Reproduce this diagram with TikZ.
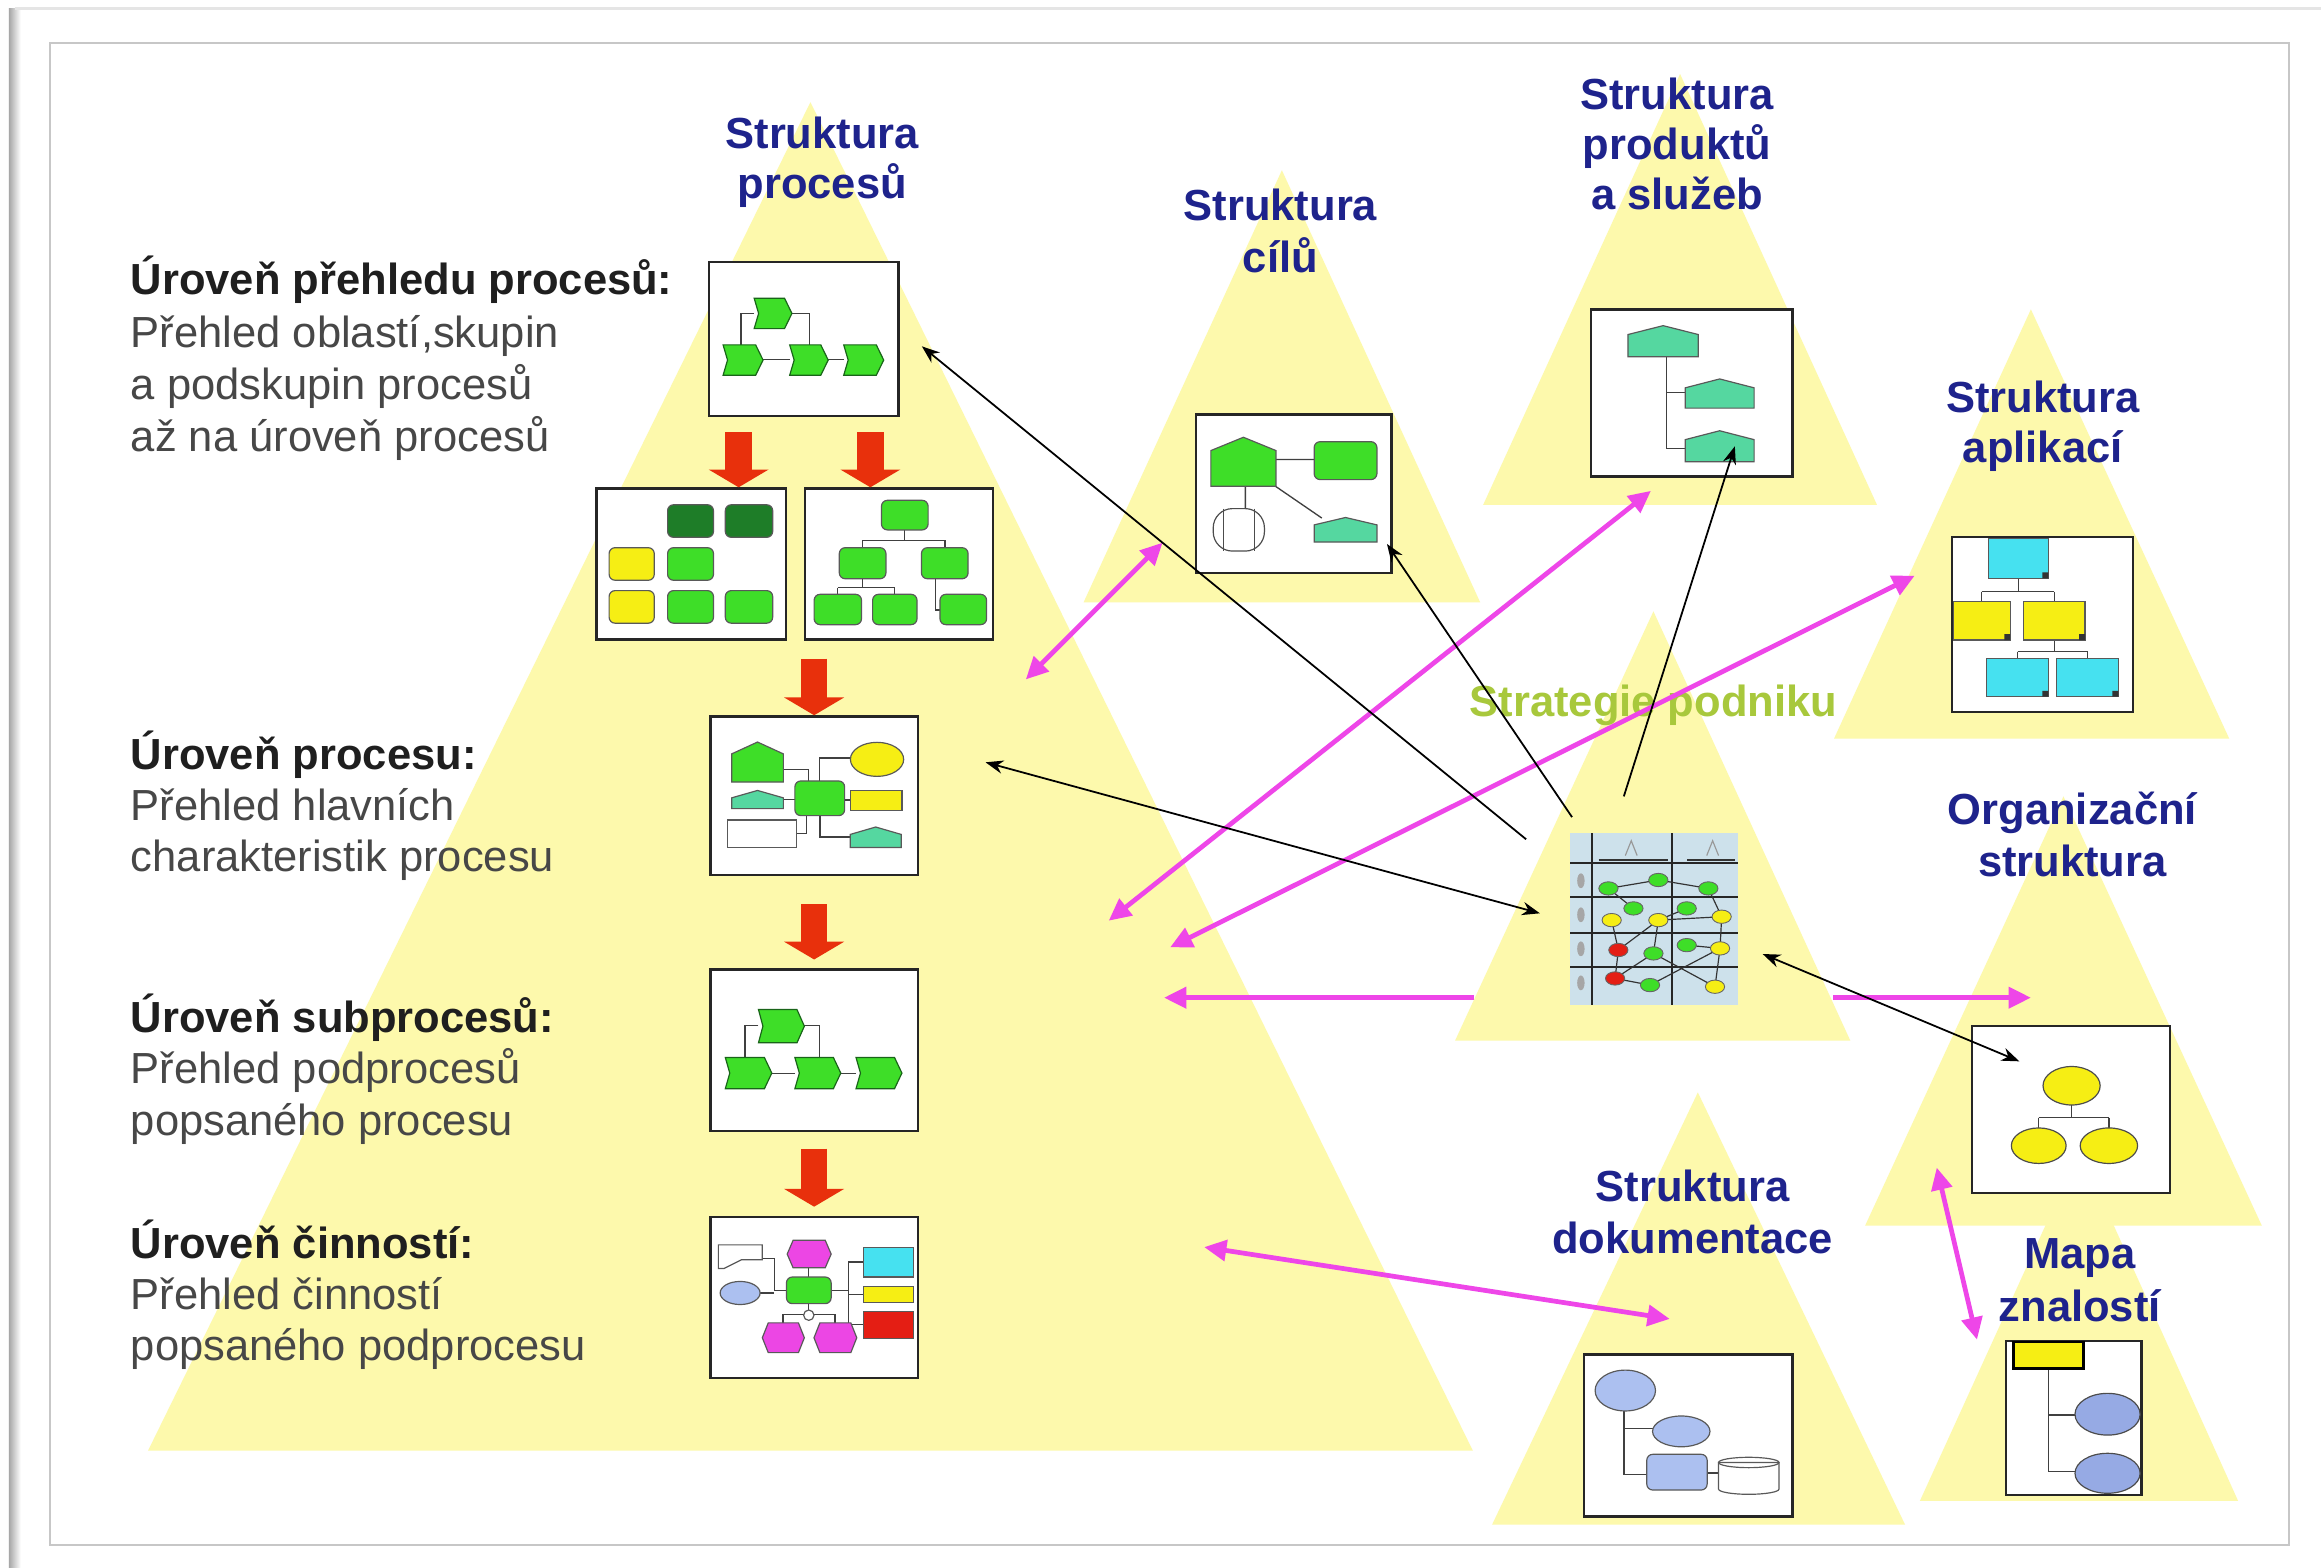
\documentclass[tikz,border=0pt]{standalone}
\usepackage{fontspec}
\setmainfont{Liberation Sans}
\usetikzlibrary{arrows.meta,fit}
\definecolor{trifill}{RGB}{253,249,172}
\definecolor{navy}{RGB}{30,35,140}
\definecolor{stratc}{RGB}{168,200,60}
\definecolor{magc}{RGB}{238,70,232}
\definecolor{redc}{RGB}{232,48,12}
\definecolor{gfill}{RGB}{62,222,40}
\definecolor{gdraw}{RGB}{25,100,25}
\definecolor{dgfill}{RGB}{30,125,40}
\definecolor{yfill}{RGB}{246,238,20}
\definecolor{tfill}{RGB}{85,215,160}
\definecolor{cfill}{RGB}{70,225,240}
\definecolor{mfill}{RGB}{236,70,228}
\definecolor{bfill}{RGB}{172,192,240}
\definecolor{bfilld}{RGB}{150,170,228}
\definecolor{rfill}{RGB}{228,30,20}
\definecolor{lbfill}{RGB}{205,225,235}
\newcommand\lblfont{\fontsize{14.7}{17}\selectfont}
\newcommand\chevshape[4]{\filldraw[fill=gfill,draw=gdraw,line width=0.4pt] (#1,#2) -- ({#3-5},#2) -- (#3,{(#2+#4)/2}) -- ({#3-5},#4) -- (#1,#4) -- ({#1+3},{(#2+#4)/2}) -- cycle;}
\newcommand\houseshape[6]{\filldraw[fill=#1,draw=black!65,line width=0.4pt] (#2,#5) -- (#2,{#3+#6}) -- ({(#2+#4)/2},#3) -- (#4,{#3+#6}) -- (#4,#5) -- cycle;}
\newcommand\rrshape[5]{\filldraw[fill=#1,draw=black!65,line width=0.4pt,rounded corners=2pt] (#2,#3) rectangle (#4,#5);}
\newcommand\hexshape[5]{\filldraw[fill=#1,draw=black!65,line width=0.4pt] ({#2+4},#3) -- ({#4-4},#3) -- (#4,{(#3+#5)/2}) -- ({#4-4},#5) -- ({#2+4},#5) -- (#2,{(#3+#5)/2}) -- cycle;}
\newcommand\sqshape[5]{\filldraw[fill=#1,draw=black!65,line width=0.4pt] (#2,#3) rectangle (#4,#5);}
\newcommand\snode[3]{\filldraw[fill=#1,draw=black!60,line width=0.3pt] (#2,#3) ellipse [x radius=6.5, y radius=4.5];}
\begin{document}
\begin{tikzpicture}[x=0.5pt,y=-0.5pt,
 box/.style={draw=black!85,line width=0.8pt,fill=white,inner sep=0pt},
 ttl/.style={font=\lblfont\bfseries,text=navy,anchor=base,inner sep=0pt},
 lvl/.style={font=\lblfont\bfseries,text=black!88,anchor=base west,inner sep=0pt},
 dsc/.style={font=\lblfont,text=black!72,anchor=base west,inner sep=0pt},
 conn/.style={draw=black!75,line width=0.45pt},
 magarr/.style={draw=magc,line width=1.6pt,{Triangle[length=7.5pt,width=7pt]}-{Triangle[length=7.5pt,width=7pt]}},
 magone/.style={draw=magc,line width=1.6pt,-{Triangle[length=7.5pt,width=7pt]}},
 blkarr/.style={draw=black,line width=0.6pt,-{Stealth[length=6pt,width=4.5pt]}},
 blkdbl/.style={draw=black,line width=0.6pt,{Stealth[length=6pt,width=4.5pt]}-{Stealth[length=6pt,width=4.5pt]}},
 redarr/.style={draw=redc,line width=9pt,-{Triangle[length=6pt,width=20pt]}}]
\useasboundingbox (0,0) rectangle (1568,1059);
\fill[white] (0,0) rectangle (1568,1059);
\shade[left color=black!35,right color=white] (6,6) rectangle (14,1059);
\draw[black!10,line width=1pt] (10,6) -- (1568,6);
\draw[black!22,line width=0.6pt] (33.8,29.3) rectangle (1546.6,1043.8);
% triangles
\fill[trifill] (547.5,69) -- (995,980) -- (100,980) -- cycle;
\fill[trifill] (866,115) -- (1000,407) -- (732,407) -- cycle;
\fill[trifill] (1135,50) -- (1268,341) -- (1002,341) -- cycle;
\fill[trifill] (1372,209) -- (1506,499) -- (1239,499) -- cycle;
\fill[trifill] (1117,413) -- (1250,703) -- (983,703) -- cycle;
\fill[trifill] (1394,538) -- (1528,828) -- (1260,828) -- cycle;
\fill[trifill] (1147,738) -- (1287,1030) -- (1008,1030) -- cycle;
\fill[trifill] (1405,777) -- (1512,1014) -- (1297,1014) -- cycle;
% boxes
\node[box,fit={(479,177) (607,281)}] (A) {};
\node[box,fit={(403,330) (531,432)}] (B1) {};
\node[box,fit={(544,330) (671,432)}] (B2) {};
\node[box,fit={(480,484) (620,591)}] (C) {};
\node[box,fit={(480,655) (620,764)}] (D) {};
\node[box,fit={(480,822) (620,931)}] (E) {};
\node[box,fit={(808,280) (940,387)}] (G) {};
\node[box,fit={(1075,209) (1211,322)}] (P) {};
\node[box,fit={(1318.5,362.6) (1441,481)}] (AP) {};
\node[box,fit={(1332,693) (1466,806)}] (O) {};
\node[box,fit={(1070,915) (1211,1024.5)}] (DK) {};
\node[box,fit={(1355.2,905.8) (1446.8,1010)}] (MZ) {};
\node[fill=lbfill,inner sep=0pt,fit={(1060.7,563) (1174.4,679)}] (S) {};
% box A
\draw[conn] (509.5,212) -- (500.5,212) -- (500.5,233);
\draw[conn] (535,212) -- (547,212) -- (547,233);
\draw[conn] (515,243) -- (534,243) (559,243) -- (570,243);
\chevshape{509.5}{201.5}{535}{222}
\chevshape{488.5}{233}{515.5}{253.5}
\chevshape{533.5}{233}{559.5}{253.5}
\chevshape{570}{233}{597}{253.5}
% box B1
\rrshape{dgfill}{451}{341}{482}{363}
\rrshape{dgfill}{490}{341}{522}{363}
\rrshape{yfill}{411.5}{370}{442}{392}
\rrshape{gfill}{451}{370}{482}{392}
\rrshape{yfill}{411.5}{399}{442}{421}
\rrshape{gfill}{451}{399}{482}{421}
\rrshape{gfill}{490}{399}{522}{421}
% box B2
\draw[conn] (611,358) -- (611,365) (582.5,365) -- (638.5,365) (582.5,365) -- (582.5,370) (638.5,365) -- (638.5,370);
\draw[conn] (582.5,391) -- (582.5,397) (566,397) -- (604.5,397) (566,397) -- (566,402) (604.5,397) -- (604.5,402);
\draw[conn] (632,391) -- (632,412) -- (635,412);
\rrshape{gfill}{595.5}{338}{627}{358}
\rrshape{gfill}{567}{370}{598.5}{391}
\rrshape{gfill}{622.5}{370}{654}{391}
\rrshape{gfill}{550}{401.5}{582}{422}
\rrshape{gfill}{589.5}{401.5}{619.5}{422}
\rrshape{gfill}{635}{401.5}{666.5}{422}
% box C
\draw[conn] (529,520) -- (546,520) -- (546,528);
\draw[conn] (574.4,512) -- (553.8,512) -- (553.8,528);
\draw[conn] (529,540) -- (537,540) (570.6,540.5) -- (574.4,540.5);
\draw[conn] (545,551) -- (545,563) -- (538,563);
\draw[conn] (554,551) -- (554,565.5) -- (574.4,565.5);
\houseshape{gfill}{494.3}{501.3}{529.2}{528.3}{8}
\filldraw[fill=yfill,draw=black!65,line width=0.4pt] (592.5,513) ellipse [x radius=18, y radius=11.5];
\houseshape{tfill}{494.3}{534}{529.2}{546.3}{5}
\rrshape{gfill}{537}{527.6}{570.6}{551}
\sqshape{yfill}{574.4}{534}{609.3}{547.8}
\sqshape{white}{491.7}{554}{538.2}{572.6}
\houseshape{tfill}{574.4}{558.7}{608.8}{572.6}{5}
% box D
\draw[conn] (512.4,693) -- (503.3,693) -- (503.3,714.4);
\draw[conn] (543.4,693) -- (553.8,693) -- (553.8,714.4);
\draw[conn] (521,725) -- (537,725) (568,725) -- (578.3,725);
\chevshape{512.4}{682}{543.4}{704.5}
\chevshape{490}{714.4}{521.4}{735.5}
\chevshape{537}{714.4}{568}{735.5}
\chevshape{578.3}{714.4}{609.3}{735.5}
% box E
\draw[conn] (515,850) -- (523,850) -- (523,872) -- (531.3,872) (513.7,873.5) -- (523,873.5);
\draw[conn] (546.4,856.5) -- (546.4,862.7);
\draw[conn] (561.5,871.7) -- (573,871.7) (573,852.6) -- (573,895) (573,852.6) -- (583.5,852.6) (573,874.3) -- (583.5,874.3) (573,895) -- (583.5,895);
\draw[conn] (546.4,880.7) -- (546.4,888) (529,888) -- (564,888) (529,888) -- (529,893.7) (564,888) -- (564,893.7);
\filldraw[fill=white,draw=black!65,line width=0.4pt] (485.3,841) -- (515,841) -- (515,851) -- (501,851) -- (489,857) -- (485.3,857) -- cycle;
\filldraw[fill=bfill,draw=black!65,line width=0.4pt] (500,873.5) ellipse [x radius=13.5, y radius=7.8];
\hexshape{mfill}{531.8}{837.9}{561.5}{856.5}
\rrshape{gfill}{531.3}{862.7}{561.5}{880.7}
\sqshape{cfill}{583.5}{842.5}{617.1}{862.7}
\sqshape{yfill}{583.5}{868.9}{617.1}{879.7}
\sqshape{rfill}{583.5}{886}{617.1}{904.5}
\hexshape{mfill}{515}{893.7}{543.4}{913.8}
\hexshape{mfill}{549.9}{893.7}{578.8}{913.8}
\filldraw[fill=white,draw=black!65,line width=0.4pt] (546.4,888.5) circle [radius=3.5];
% goals box
\draw[conn] (862,310.4) -- (887.8,310.4) (841.3,328.5) -- (841.3,343.6) (858,326) -- (893,350);
\houseshape{gfill}{818}{295.4}{862}{328.5}{9}
\rrshape{gfill}{887.8}{298.4}{930.2}{324}
\filldraw[fill=white,draw=black!70,line width=0.4pt,rounded corners=6.5pt] (819.6,343.6) rectangle (854.2,372.3);
\draw[black!70,line width=0.4pt] (826.5,343.6) -- (826.5,372.3) (847.3,343.6) -- (847.3,372.3);
\houseshape{tfill}{887.8}{349.6}{930.2}{366.2}{5}
% products box
\draw[conn] (1125.6,241) -- (1125.6,302.9) -- (1138.5,302.9) (1125.6,265.2) -- (1138.5,265.2);
\houseshape{tfill}{1099.8}{220}{1147.3}{241}{6}
\houseshape{tfill}{1138.5}{256}{1185}{275.7}{6}
\houseshape{tfill}{1138.5}{291}{1185}{312}{6}
% applications box
\draw[conn] (1363.6,390.7) -- (1363.6,399.7) (1338.8,399.7) -- (1387.8,399.7) (1338.8,399.7) -- (1338.8,406.5) (1387.8,399.7) -- (1387.8,406.5);
\draw[conn] (1387.8,432.4) -- (1387.8,440.3) (1363,440.3) -- (1410.3,440.3) (1363,440.3) -- (1363,444.7) (1410.3,440.3) -- (1410.3,444.7);
\sqshape{cfill}{1343.3}{363.7}{1383.8}{390.7}
\sqshape{yfill}{1319.6}{406.5}{1358}{432.4}
\sqshape{yfill}{1367}{406.5}{1408.6}{432.4}
\sqshape{cfill}{1342.2}{444.7}{1383.8}{470.7}
\sqshape{cfill}{1389.4}{444.7}{1431.1}{470.7}
\fill[black!80] (1379.8,386.7) rectangle (1383.8,390.7) (1354,428.4) rectangle (1358,432.4) (1404.6,428.4) rectangle (1408.6,432.4) (1379.8,466.7) rectangle (1383.8,470.7) (1427.1,466.7) rectangle (1431.1,470.7);
% organisation box
\draw[conn] (1399.5,746.4) -- (1399.5,755) (1377.3,755) -- (1424.7,755) (1377.3,755) -- (1377.3,762) (1424.7,755) -- (1424.7,762);
\filldraw[fill=yfill,draw=black!70,line width=0.4pt] (1399.5,733.5) ellipse [x radius=19.3, y radius=13];
\filldraw[fill=yfill,draw=black!70,line width=0.4pt] (1377.3,774) ellipse [x radius=18.5, y radius=12];
\filldraw[fill=yfill,draw=black!70,line width=0.4pt] (1424.7,774) ellipse [x radius=19.4, y radius=12];
% documentation box
\draw[conn] (1097,948) -- (1097,996.3) (1097,965.2) -- (1116.4,965.2) (1097,996.3) -- (1112.5,996.3) (1153.3,995) -- (1161,995);
\filldraw[fill=bfill,draw=black!65,line width=0.4pt] (1098,939.4) ellipse [x radius=20.4, y radius=13.8];
\filldraw[fill=bfill,draw=black!65,line width=0.4pt] (1135.8,967) ellipse [x radius=19.4, y radius=10.4];
\rrshape{bfill}{1112.5}{982.5}{1153.3}{1006.6}
\filldraw[fill=white,draw=black!65,line width=0.4pt] (1161,988) -- (1161,1006) arc[start angle=180,end angle=0,x radius=20.4,y radius=3.5] -- (1201.8,988) -- cycle;
\draw[black!65,line width=0.4pt] (1181.4,988) ellipse [x radius=20.4, y radius=3.5];
% knowledge map box
\draw[conn] (1383.8,924.4) -- (1383.8,994.2) (1383.8,956) -- (1401.8,956) (1383.8,994.2) -- (1401.8,994.2);
\filldraw[fill=yfill,draw=black,line width=0.8pt] (1360.2,906.4) rectangle (1407.5,924.4);
\filldraw[fill=bfilld,draw=black!70,line width=0.4pt] (1423.8,955.4) ellipse [x radius=22, y radius=14.1];
\filldraw[fill=bfilld,draw=black!70,line width=0.4pt] (1423.8,995.3) ellipse [x radius=22, y radius=13.5];
% strategy image
\draw[black!85,line width=0.7pt] (1075.3,563) -- (1075.3,679) (1129.4,563) -- (1129.4,679);
\draw[black!85,line width=0.7pt] (1060.7,583.3) -- (1174.4,583.3) (1060.7,606.2) -- (1174.4,606.2) (1060.7,630.5) -- (1174.4,630.5) (1060.7,653.1) -- (1174.4,653.1);
\draw[black!40,line width=0.4pt] (1098,578) -- (1102,568) -- (1106,578) (1153,578) -- (1157,568) -- (1161,578);
\draw[black!80,line width=0.5pt] (1080,581) -- (1127,581) (1140,581) -- (1172,581);
\foreach \yy in {595,618,641,664} {\fill[black!35] (1068,\yy) ellipse [x radius=2.5, y radius=5];}
\draw[black!80,line width=0.4pt] (1086.6,600.2) -- (1120.3,594.5) -- (1154.1,600.2) -- (1163.1,619.3) -- (1162,640.7) -- (1158.6,666.6);
\draw[black!80,line width=0.4pt] (1086.6,600.2) -- (1103.5,613.7) (1139.5,613.7) -- (1120.3,621.6) -- (1163.1,619.3);
\draw[black!80,line width=0.4pt] (1088.8,621.6) -- (1093.3,641.8) -- (1091.1,661) -- (1114.7,665.5) -- (1162,640.7) (1120.3,621.6) -- (1093.3,641.8) (1120.3,621.6) -- (1117,644.1) -- (1091.1,661) (1117,644.1) -- (1158.6,666.6) (1139.5,638.5) -- (1162,640.7);
\snode{gfill}{1086.6}{600.2}
\snode{gfill}{1120.3}{594.5}
\snode{gfill}{1154.1}{600.2}
\snode{gfill}{1103.5}{613.7}
\snode{gfill}{1139.5}{613.7}
\snode{gfill}{1117}{644.1}
\snode{gfill}{1139.5}{638.5}
\snode{gfill}{1114.7}{665.5}
\snode{yfill}{1088.8}{621.6}
\snode{yfill}{1120.3}{621.6}
\snode{yfill}{1163.1}{619.3}
\snode{yfill}{1162}{640.7}
\snode{yfill}{1158.6}{666.6}
\snode{rfill}{1093.3}{641.8}
\snode{rfill}{1091.1}{661}
% red arrows
\coordinate (ra1) at (499,292);
\coordinate (ra2) at (588,292);
\coordinate (ra3) at (550,445);
\coordinate (ra4) at (550,611);
\coordinate (ra5) at (550,776);
\draw[redarr] (ra1) -- (ra1 |- B1.north);
\draw[redarr] (ra2) -- (ra2 |- B2.north);
\draw[redarr] (ra3) -- (ra3 |- C.north);
\draw[redarr] (ra4) -- ([yshift=3pt]ra4 |- D.north);
\draw[redarr] (ra5) -- ([yshift=3pt]ra5 |- E.north);
% texts
\node[ttl] (tp1) at (555.5,100) {Struktura};
\node[ttl] (tp2) at (555.5,134) {procesů};
\node[ttl] (tc1) at (865,149) {Struktura};
\node[ttl] (tc2) at (865,184) {cílů};
\node[ttl] (tpr1) at (1133,74) {Struktura};
\node[ttl] (tpr2) at (1133,107.5) {produktů};
\node[ttl] (tpr3) at (1133,141.5) {a služeb};
\node[ttl] (ta1) at (1380,279) {Struktura};
\node[ttl] (ta2) at (1380,312.5) {aplikací};
\node[ttl] (to1) at (1400,557) {Organizační};
\node[ttl] (to2) at (1400,592) {struktura};
\node[ttl] (td1) at (1143.5,812) {Struktura};
\node[ttl] (td2) at (1143.5,846.5) {dokumentace};
\node[ttl] (tm1) at (1405,857) {Mapa};
\node[ttl] (tm2) at (1405,893) {znalostí};
\node[ttl,text=stratc] (ts) at (1117,484) {Strategie podniku};
\node[lvl] (l1a) at (88,199) {Úroveň přehledu procesů:};
\node[dsc] (l1b) at (88,235) {Přehled oblastí,skupin};
\node[dsc] (l1c) at (88,270) {a podskupin procesů};
\node[dsc] (l1d) at (88,305) {až na úroveň procesů};
\node[lvl] (l2a) at (88,519.7) {Úroveň procesu:};
\node[dsc] (l2b) at (88,554.3) {Přehled hlavních};
\node[dsc] (l2c) at (88,589) {charakteristik procesu};
\node[lvl] (l3a) at (88,697.6) {Úroveň subprocesů:};
\node[dsc] (l3b) at (88,732.3) {Přehled podprocesů};
\node[dsc] (l3c) at (88,767) {popsaného procesu};
\node[lvl] (l4a) at (88,850) {Úroveň činností:};
\node[dsc] (l4b) at (88,884.5) {Přehled činností};
\node[dsc] (l4c) at (88,919.3) {popsaného podprocesu};
% magenta arrows
\coordinate (m1a) at (693,459); \coordinate (m1b) at (785.4,366.6);
\coordinate (m2a) at (749,622); \coordinate (m2b) at (1115.3,331.6);
\coordinate (m3a) at (790.5,640); \coordinate (m3b) at (1293.5,388.9);
\coordinate (m4a) at (996,674); \coordinate (m4b) at (786.4,674);
\coordinate (m4c) at (1238.5,674); \coordinate (m4d) at (1372,674);
\coordinate (m5a) at (813.5,842.5); \coordinate (m5b) at (1128,891);
\coordinate (m6a) at (1308.4,788.8); \coordinate (m6b) at (1335.6,905);
\draw[magarr] (m1a) -- (m1b);
\draw[magarr] (m2a) -- (m2b);
\draw[magarr] (m3a) -- (m3b);
\draw[magone] (m4a) -- (m4b);
\draw[magone] (m4c) -- (m4d);
\draw[magarr] (m5a) -- (m5b);
\draw[magarr] (m6a) -- (m6b);
% black arrows
\coordinate (k1) at (1031,567); \coordinate (k2) at (1062,552); \coordinate (k3) at (1097,538);
\draw[blkarr] (k1) -- ([shift={(15,5)}]A.east);
\draw[blkarr] (k2) -- (937,367.5);
\draw[blkarr] (k3) -- (1172,301.5);
\draw[blkdbl] ([shift={(45,-22.5)}]C.east) -- ([shift={(-20,-4)}]S.west);
\draw[blkdbl] ([shift={(16,23.5)}]S.east) -- ([shift={(33,-32.5)}]O.west);
\end{tikzpicture}
\end{document}
